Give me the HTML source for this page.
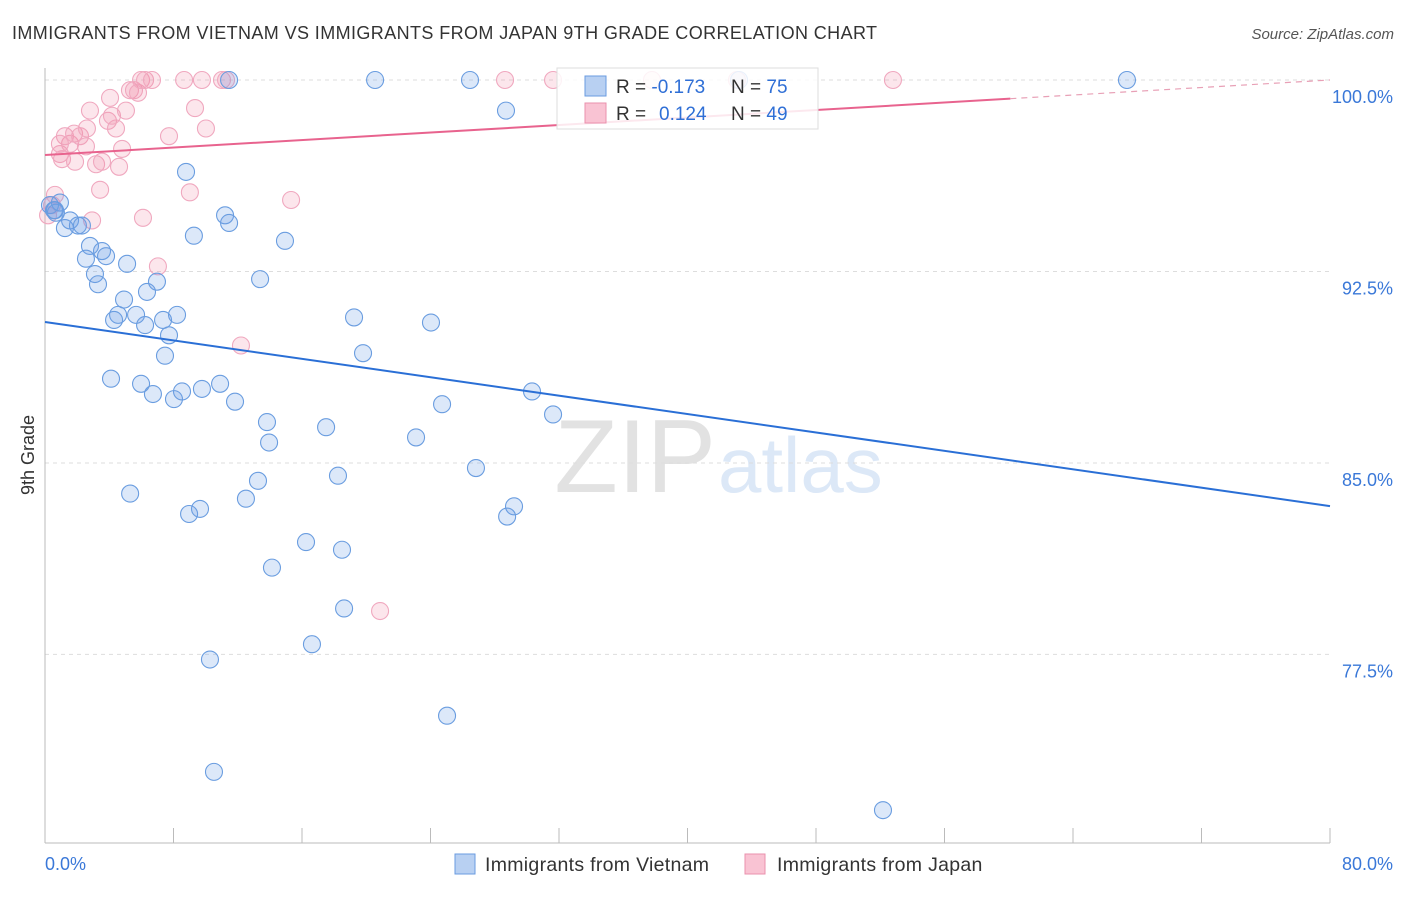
<!DOCTYPE html>
<html><head><meta charset="utf-8"><style>
body{margin:0;background:#fff;font-family:"Liberation Sans",sans-serif}
svg text{font-family:"Liberation Sans",sans-serif}
</style></head><body>
<svg id="c" width="1406" height="892" xmlns="http://www.w3.org/2000/svg">
<text x="12" y="39" font-size="18" letter-spacing="0.4" fill="#333">IMMIGRANTS FROM VIETNAM VS IMMIGRANTS FROM JAPAN 9TH GRADE CORRELATION CHART</text>
<text x="1394" y="39" font-size="15" fill="#555" font-style="italic" text-anchor="end">Source: ZipAtlas.com</text>
<text x="716" y="492" font-size="104" fill="#e2e2e2" text-anchor="end" font-family="Liberation Serif">ZIP</text>
<text x="718" y="492" font-size="78" fill="#dce8f7">atlas</text>
<g id="grid"></g>
<g id="axes"></g>
<g id="pts"></g>
<g id="trend"></g>
<text x="34" y="455" font-size="18" fill="#333" transform="rotate(-90 34 455)" text-anchor="middle">9th Grade</text>
<g>
<rect x="557" y="68" width="261" height="61" fill="#fff" stroke="#ddd" fill-opacity="0.85"/>
<rect x="585" y="76" width="21" height="20" fill="#b8d0f2" stroke="#6a9be0"/>
<rect x="585" y="103" width="21" height="20" fill="#f9c3d3" stroke="#ea90ad"/>
<text x="616" y="93" font-size="19" fill="#333">R = <tspan fill="#2f6fd6">-0.173</tspan></text>
<text x="731" y="93" font-size="19" fill="#333">N = <tspan fill="#2f6fd6">75</tspan></text>
<text x="616" y="120" font-size="19" fill="#333">R = <tspan fill="#2f6fd6" x="659">0.124</tspan></text>
<text x="731" y="120" font-size="19" fill="#333">N = <tspan fill="#2f6fd6">49</tspan></text>
</g>
<g>
<rect x="455" y="854" width="20" height="20" fill="#b8d0f2" stroke="#6a9be0"/>
<text x="485" y="871" font-size="19.5" letter-spacing="0.3" fill="#333">Immigrants from Vietnam</text>
<rect x="745" y="854" width="20" height="20" fill="#f9c3d3" stroke="#ea90ad"/>
<text x="777" y="871" font-size="19.5" letter-spacing="0.3" fill="#333">Immigrants from Japan</text>
</g>
</svg>
<script>
const yTicks=[100,92.5,85,77.5];
const yTickLabels=["100.0%","92.5%","85.0%","77.5%"];
const xTickVals=[0,8,16,24,32,40,48,56,64,72,80];
const xEndLabels=["0.0%","80.0%"];
const vietnamX=[0.56,0.31,0.93,0.68,1.24,1.56,2.05,2.30,2.80,2.55,3.55,3.80,3.11,3.30,5.11,4.92,4.55,4.30,5.67,6.23,6.35,6.97,7.35,8.22,7.72,7.47,4.11,5.98,6.72,8.03,8.53,9.77,10.9,11.83,8.78,9.27,11.21,11.46,14.94,13.39,5.30,8.97,9.65,12.51,13.26,13.82,13.95,17.5,19.24,19.8,18.24,16.25,18.49,14.13,18.62,16.62,10.27,10.52,24.03,23.1,24.72,30.32,31.63,26.83,29.2,28.77,25.03,52.17,11.46,20.55,26.46,28.7,43.21,67.36,0.62];
const vietnamY=[94.9,95.1,95.2,94.8,94.2,94.5,94.3,94.3,93.5,93.0,93.3,93.1,92.4,92.0,92.8,91.4,90.8,90.6,90.8,90.4,91.7,92.1,90.6,90.8,90.0,89.2,88.3,88.1,87.7,87.5,87.8,87.9,88.1,87.4,96.4,93.9,94.7,94.4,93.7,92.2,83.8,83.0,83.2,83.6,84.3,86.6,85.8,86.4,90.7,89.3,84.5,81.9,81.6,80.9,79.3,77.9,77.3,72.9,90.5,86.0,87.3,87.8,86.9,84.8,83.3,82.9,75.1,71.4,100,100,100,98.8,100,100,94.9];
const japanX=[0.19,0.44,0.62,0.93,1.06,1.87,1.56,1.24,1.81,2.18,2.55,3.18,2.61,2.80,3.55,3.43,2.93,3.92,4.42,4.61,4.80,4.17,5.04,4.05,5.29,5.54,5.79,5.98,6.23,6.66,8.66,9.77,11.02,11.27,9.34,10.02,7.72,9.02,6.10,7.03,12.2,15.32,20.86,28.64,31.63,37.79,43.08,52.79,0.93];
const japanY=[94.7,95.1,95.5,97.1,96.9,96.8,97.5,97.8,97.9,97.8,97.4,96.7,98.1,98.8,96.8,95.7,94.5,98.4,98.1,96.6,97.3,98.6,98.8,99.3,99.6,99.6,99.5,100,100,100,100,100,100,100,98.9,98.1,97.8,95.6,94.6,92.7,89.6,95.3,79.2,100,100,100,100,100,97.5];
const vTrend=[90.52,83.31];
const jTrend=[97.06,100];
const jSolidEnd=60.1;
const NS="http://www.w3.org/2000/svg";
const X=v=>45+v/80*1285;
const Y=v=>80+(100-v)*25.53;
function mk(t,a,p){const e=document.createElementNS(NS,t);for(const k in a)e.setAttribute(k,a[k]);document.getElementById(p).appendChild(e);return e;}
yTicks.forEach((t,i)=>{
 const l=mk('line',{x1:45,x2:1330,y1:Y(t),y2:Y(t),stroke:'#ddd','stroke-dasharray':'4,4'},'grid');
 
 
 const tx=mk('text',{x:1393,y:Y(t)+23,'font-size':18,fill:'#3a78d8','text-anchor':'end'},'axes');
 tx.textContent=yTickLabels[i];
 
 
});
const ax=mk('line',{x1:45,x2:45,y1:68,y2:843,stroke:'#bbb'},'axes');


const bx=mk('line',{x1:45,x2:1330,y1:843,y2:843,stroke:'#bbb'},'axes');


xTickVals.forEach(v=>{
 const t=mk('line',{x1:X(v),x2:X(v),y1:828,y2:843,stroke:'#bbb'},'axes');
 
 
});
const xl0=mk('text',{x:45,y:870,'font-size':18,fill:'#3a78d8'},'axes');
xl0.textContent=xEndLabels[0];


const xl1=mk('text',{x:1393,y:870,'font-size':18,fill:'#3a78d8','text-anchor':'end'},'axes');
xl1.textContent=xEndLabels[1];


japanX.forEach((x,i)=>{
 const c=mk('circle',{cx:X(x),cy:Y(japanY[i]),r:8.5,fill:'rgba(242,140,170,0.22)',stroke:'#f0a8bf','stroke-width':1.1},'pts');
 
 
});
vietnamX.forEach((x,i)=>{
 const c=mk('circle',{cx:X(x),cy:Y(vietnamY[i]),r:8.5,fill:'rgba(110,160,230,0.24)',stroke:'#6a9de0','stroke-width':1.1},'pts');
 
 
});
const vt=mk('line',{x1:X(0),y1:Y(vTrend[0]),x2:X(80),y2:Y(vTrend[1]),stroke:'#2a6fd6','stroke-width':2},'trend');


const jm=jTrend[0]+(jTrend[1]-jTrend[0])*jSolidEnd/80;
const jt=mk('line',{x1:X(0),y1:Y(jTrend[0]),x2:X(jSolidEnd),y2:Y(jm),stroke:'#e8638e','stroke-width':2},'trend');


const jd=mk('line',{x1:X(jSolidEnd),y1:Y(jm),x2:X(80),y2:Y(jTrend[1]),stroke:'#e8a0b6','stroke-width':1.2,'stroke-dasharray':'6,5'},'trend');


</script>
</body></html>
